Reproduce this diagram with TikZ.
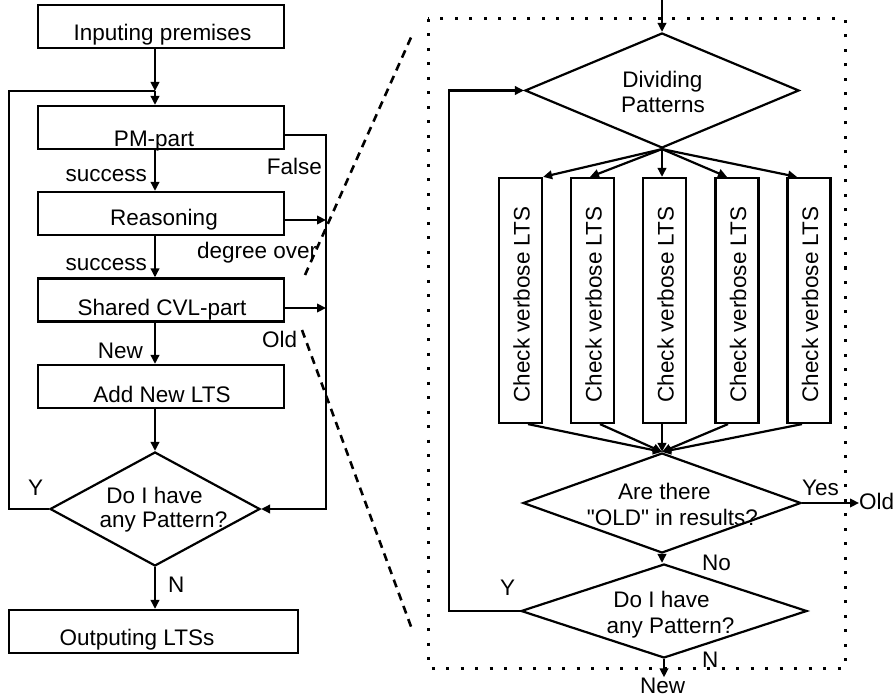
\documentclass[tikz,border=0pt]{standalone}
\usepackage{fontspec}
\newfontfamily\lib{Liberation Sans}
\usetikzlibrary{shapes.geometric,arrows.meta}
\begin{document}
\begin{tikzpicture}[x=1pt,y=-1pt,
  every node/.style={font=\lib\fontsize{22.5}{26}\selectfont},
  box/.style={draw, line width=2.2pt, inner sep=0, minimum width=246pt, minimum height=43pt},
  vbox/.style={draw, line width=2.2pt, inner sep=0, minimum width=43pt, minimum height=245pt},
  dia/.style={draw, diamond, line width=2.2pt, inner sep=0},
  txt/.style={inner sep=0, anchor=base},
  conn/.style={line width=2.2pt, -{Triangle[length=9pt,width=8.5pt]}},
  plain/.style={line width=2.2pt},
  zoomline/.style={line width=2.6pt, dash pattern=on 8pt off 6pt},
  dotbox/.style={line width=3pt, dash pattern=on 3pt off 11.5pt},
]
\useasboundingbox[fill=white] (0,0) rectangle (893,700);

% ---------- left flow ----------
\coordinate (cx) at (155,0);
\coordinate (j) at (155,91);
\coordinate (lx) at (9,300);
\coordinate (rx) at (326,300);

\node[box] (inp) at (161,26.5) {};
\node[txt] (tinp) at (162.5,41) {Inputing premises};
\node[box] (pm) at (161,127.5) {};
\node[txt] (tpm) at (154,147) {PM-part};
\node[box] (rea) at (161,213.5) {};
\node[txt] (trea) at (164,226) {Reasoning};
\node[box] (sh) at (161,300) {};
\node[txt] (tsh) at (162,315) {Shared CVL-part};
\node[box] (add) at (161,386.5) {};
\node[txt] (tadd) at (162,402) {Add New LTS};
\node[dia, minimum width=210pt, minimum height=114pt] (d1) at (155,509) {};
\node[txt] (td1a) at (154.5,503) {Do I have};
\node[txt] (td1b) at (163.5,527) {any Pattern?};
\node[box, minimum width=289pt] (out) at (153.5,631.5) {};
\node[txt] (tout) at (137,645) {Outputing LTSs};

\draw[conn] (inp.south -| cx) -- (j);
\draw[conn] (j) -- (pm.north -| cx);
\draw[plain] (d1.west) -| (lx) |- (j);
\draw[conn] (pm.south -| cx) -- (rea.north -| cx);
\draw[conn] (rea.south -| cx) -- (sh.north -| cx);
\draw[conn] (sh.south -| cx) -- (add.north -| cx);
\draw[conn] (add.south -| cx) -- (d1.north);
\draw[conn] (d1.south) -- (out.north -| d1.south);
\draw[conn] ([yshift=-7.5pt]pm.east) -| (rx |- d1.east) -- (d1.east);
\draw[conn] ([yshift=-6.5pt]rea.east) -- ([yshift=-6.5pt]rea.east -| rx);
\draw[conn] ([yshift=-8pt]sh.east) -- ([yshift=-8pt]sh.east -| rx);

\node[txt, anchor=base east] (ls1) at (147,182) {success};
\node[txt, anchor=base east] (lfalse) at (322,175) {False};
\node[txt, anchor=base west] (ldeg) at (197,259) {degree over};
\node[txt, anchor=base east] (ls2) at (147,271) {success};
\node[txt, anchor=base west] (lold) at (262,347) {Old};
\node[txt, anchor=base east] (lnew) at (143,358) {New};
\node[txt, anchor=base west] (ly1) at (28,495) {Y};
\node[txt, anchor=base west] (ln1) at (168,592) {N};

% ---------- zoom lines ----------
\coordinate (z1a) at (305,275);
\coordinate (z1b) at (413,33);
\coordinate (z2a) at (302,330);
\coordinate (z2b) at (413,632);
\draw[zoomline] (z1a) -- (z1b);
\draw[zoomline] (z2a) -- (z2b);

% ---------- right detail ----------
\draw[dotbox] (428,19) rectangle (845,668);

\node[dia, minimum width=274pt, minimum height=115pt] (div) at (662,90.5) {};
\node[txt] (tdiva) at (662.5,88) {Dividing};
\node[txt] (tdivb) at (663,113) {Patterns};
\coordinate (in) at (662,0);
\draw[conn] (in) -- (div.north);

\node[vbox] (c1) at (520.5,300.5) {};
\node[vbox] (c2) at (592.5,300.5) {};
\node[vbox] (c3) at (664.5,300.5) {};
\node[vbox] (c4) at (737,300.5) {};
\node[vbox] (c5) at (809,300.5) {};
\node[txt, rotate=90] (tc1) at (529.5,304.5) {Check verbose LTS};
\node[txt, rotate=90] (tc2) at (601.5,304.5) {Check verbose LTS};
\node[txt, rotate=90] (tc3) at (673.5,304.5) {Check verbose LTS};
\node[txt, rotate=90] (tc4) at (746,304.5) {Check verbose LTS};
\node[txt, rotate=90] (tc5) at (818,304.5) {Check verbose LTS};

\draw[conn] (div.south) -- (c1.north east);
\draw[conn] (div.south) -- ([xshift=-2.5pt]c2.north);
\draw[conn] (div.south) -- (c3.north -| div.south);
\draw[conn] (div.south) -- ([xshift=-10pt]c4.north);
\draw[conn] (div.south) -- ([xshift=-12pt]c5.north);

\node[dia, minimum width=278pt, minimum height=100pt] (d2) at (662,503) {};
\node[txt] (td2a) at (664.5,499) {Are there};
\node[txt] (td2b) at (672.5,525) {"OLD" in results?};

\draw[conn] ([xshift=7.5pt]c1.south) -- (d2.north);
\draw[conn] ([xshift=7.5pt]c2.south) -- (d2.north);
\draw[conn] (c3.south -| d2.north) -- (d2.north);
\draw[conn] ([xshift=-9pt]c4.south) -- (d2.north);
\draw[conn] ([xshift=-7pt]c5.south) -- (d2.north);

\node[txt, anchor=base west] (lold2) at (859,509) {Old};
\draw[conn] (d2.east) -- (d2.east -| lold2.west);
\node[txt, anchor=base west] (lyes) at (802,495) {Yes};
\node[txt, anchor=base west] (lno) at (702,570) {No};

\node[dia, minimum width=286pt, minimum height=94pt] (d3) at (664,611) {};
\node[txt] (td3a) at (661.5,607) {Do I have};
\node[txt] (td3b) at (670.5,633) {any Pattern?};
\draw[conn] (d2.south) -- (d2.south |- d3.north);

\node[txt, anchor=base west] (ly2) at (500,595) {Y};
\node[txt, anchor=base west] (ln2) at (702,667) {N};
\node[txt] (new) at (662.5,693) {New};
\draw[conn] (d3.south) -- (d3.south |- new.north);

\coordinate (lx2) at (449,300);
\draw[conn] (d3.west) -| (lx2) |- (div.west);
\end{tikzpicture}
\end{document}
